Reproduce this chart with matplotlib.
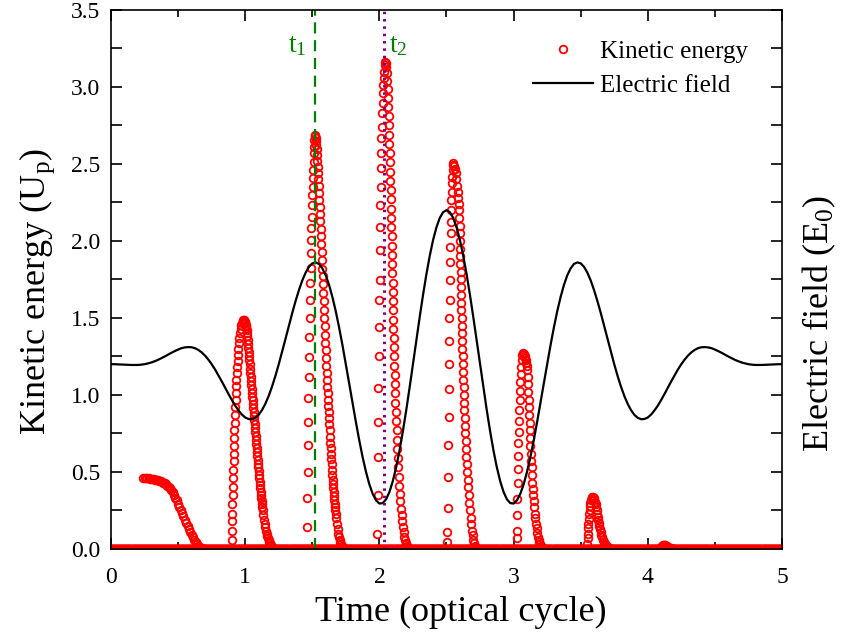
import matplotlib.pyplot as plt
import numpy as np
from matplotlib.lines import Line2D
from matplotlib.ticker import MultipleLocator, FormatStrFormatter

plt.rcParams["font.family"] = ["Liberation Serif", "DejaVu Serif"]
plt.rcParams["mathtext.fontset"] = "custom"
plt.rcParams["mathtext.rm"] = "Liberation Serif"
plt.rcParams["mathtext.it"] = "Liberation Serif:italic"
plt.rcParams["mathtext.default"] = "regular"

# --- electric field, sampled every 0.025 optical cycle from 0 to 5 ---
field_e = [
    1.200, 1.200, 1.199, 1.198, 1.197, 1.196, 1.195, 1.195, 1.195, 1.197,
    1.200, 1.205, 1.211, 1.219, 1.228, 1.239, 1.250, 1.262, 1.274, 1.285,
    1.295, 1.304, 1.309, 1.311, 1.310, 1.304, 1.293, 1.277, 1.256, 1.230,
    1.200, 1.166, 1.128, 1.089, 1.048, 1.007, 0.968, 0.931, 0.900, 0.873,
    0.854, 0.844, 0.843, 0.852, 0.871, 0.902, 0.943, 0.994, 1.055, 1.124,
    1.200, 1.281, 1.364, 1.448, 1.531, 1.609, 1.680, 1.743, 1.794, 1.832,
    1.855, 1.861, 1.851, 1.822, 1.777, 1.714, 1.635, 1.543, 1.437, 1.322,
    1.200, 1.074, 0.947, 0.823, 0.705, 0.596, 0.501, 0.420, 0.358, 0.316,
    0.295, 0.298, 0.323, 0.371, 0.441, 0.531, 0.640, 0.765, 0.902, 1.048,
    1.200, 1.353, 1.504, 1.649, 1.783, 1.903, 2.006, 2.089, 2.150, 2.187,
    2.200,
    2.187, 2.150, 2.089, 2.006, 1.903, 1.783, 1.649, 1.504, 1.353, 1.200,
    1.048, 0.902, 0.765, 0.640, 0.531, 0.441, 0.371, 0.323, 0.298, 0.295,
    0.316, 0.358, 0.420, 0.501, 0.596, 0.705, 0.823, 0.947, 1.074, 1.200,
    1.322, 1.437, 1.543, 1.635, 1.714, 1.777, 1.822, 1.851, 1.861, 1.855,
    1.832, 1.794, 1.743, 1.680, 1.609, 1.531, 1.448, 1.364, 1.281, 1.200,
    1.124, 1.055, 0.994, 0.943, 0.902, 0.871, 0.852, 0.843, 0.844, 0.854,
    0.873, 0.900, 0.931, 0.968, 1.007, 1.048, 1.089, 1.128, 1.166, 1.200,
    1.230, 1.256, 1.277, 1.293, 1.304, 1.310, 1.311, 1.309, 1.304, 1.295,
    1.285, 1.274, 1.262, 1.250, 1.239, 1.228, 1.219, 1.211, 1.205, 1.200,
    1.197, 1.195, 1.195, 1.195, 1.196, 1.197, 1.198, 1.199, 1.200, 1.200,
]
field_t = np.linspace(0, 5, len(field_e))

# --- kinetic energy, one list of (time, energy) per burst ---
ke_burst0 = [
    (0.24, 0.460), (0.25, 0.460), (0.26, 0.460), (0.27, 0.459), (0.28, 0.458),
    (0.29, 0.457), (0.30, 0.456), (0.31, 0.455), (0.32, 0.453), (0.33, 0.451),
    (0.34, 0.449), (0.35, 0.447), (0.36, 0.444), (0.37, 0.440), (0.38, 0.436),
    (0.39, 0.431), (0.40, 0.426), (0.41, 0.420), (0.42, 0.412), (0.43, 0.403),
    (0.44, 0.393), (0.45, 0.382), (0.46, 0.368), (0.47, 0.352), (0.48, 0.334),
    (0.49, 0.315), (0.50, 0.294), (0.51, 0.272), (0.52, 0.251), (0.53, 0.231),
    (0.54, 0.211), (0.55, 0.191), (0.56, 0.171), (0.57, 0.151), (0.58, 0.131),
    (0.59, 0.111), (0.60, 0.093), (0.61, 0.076), (0.62, 0.059), (0.63, 0.043),
    (0.64, 0.030), (0.65, 0.020), (0.66, 0.012), (0.67, 0.006), (0.68, 0.003),
    (0.69, 0.001), (0.70, 0.000),
]
ke_burst1 = [
    (0.899, 0.00), (0.900, 0.06), (0.901, 0.12), (0.902, 0.18), (0.903, 0.23),
    (0.905, 0.29), (0.906, 0.35), (0.908, 0.40), (0.909, 0.46), (0.911, 0.51),
    (0.913, 0.57), (0.914, 0.62), (0.916, 0.67), (0.918, 0.72), (0.920, 0.77),
    (0.922, 0.82), (0.924, 0.87), (0.926, 0.92), (0.928, 0.97), (0.930, 1.01),
    (0.932, 1.06), (0.935, 1.10), (0.937, 1.14), (0.940, 1.18), (0.943, 1.22),
    (0.946, 1.26), (0.949, 1.30), (0.953, 1.34), (0.957, 1.37), (0.961, 1.40),
    (0.965, 1.43), (0.970, 1.455), (0.975, 1.47), (0.980, 1.482), (0.986, 1.487),
    (0.9875, 1.486), (0.990, 1.484), (0.9925, 1.481), (0.995, 1.477), (0.9975, 1.472),
    (1.000, 1.465), (1.0025, 1.457), (1.005, 1.448), (1.0075, 1.437), (1.010, 1.425),
    (1.0125, 1.404), (1.015, 1.380), (1.0175, 1.355), (1.020, 1.330), (1.0225, 1.305),
    (1.025, 1.280), (1.0275, 1.253), (1.030, 1.225), (1.0325, 1.198), (1.035, 1.170),
    (1.0375, 1.143), (1.040, 1.115), (1.0425, 1.090), (1.045, 1.065), (1.0475, 1.040),
    (1.050, 1.015), (1.0525, 0.990), (1.055, 0.965), (1.0575, 0.940), (1.060, 0.915),
    (1.0625, 0.890), (1.065, 0.865), (1.0675, 0.838), (1.070, 0.810), (1.0725, 0.785),
    (1.075, 0.760), (1.0775, 0.733), (1.080, 0.705), (1.0825, 0.680), (1.085, 0.655),
    (1.0875, 0.630), (1.090, 0.605), (1.0925, 0.580), (1.095, 0.555), (1.0975, 0.530),
    (1.100, 0.505), (1.1025, 0.483), (1.105, 0.460), (1.1075, 0.438), (1.110, 0.415),
    (1.1125, 0.393), (1.115, 0.370), (1.1175, 0.350), (1.120, 0.330), (1.1225, 0.310),
    (1.125, 0.290), (1.1275, 0.273), (1.130, 0.255), (1.135, 0.220), (1.140, 0.190),
    (1.145, 0.165), (1.150, 0.140), (1.155, 0.120), (1.160, 0.100), (1.165, 0.085),
    (1.170, 0.070), (1.175, 0.058), (1.180, 0.047), (1.185, 0.037), (1.190, 0.028),
    (1.195, 0.020), (1.200, 0.014), (1.205, 0.009), (1.210, 0.005), (1.215, 0.002),
    (1.220, 0.000),
]
ke_burst2 = [
    (1.458, 0.000), (1.460, 0.145), (1.462, 0.329), (1.465, 0.502), (1.467, 0.675),
    (1.469, 0.827), (1.471, 0.978), (1.473, 1.119), (1.476, 1.249), (1.478, 1.379),
    (1.480, 1.498), (1.482, 1.617), (1.484, 1.725), (1.487, 1.823), (1.489, 1.920),
    (1.491, 2.006), (1.493, 2.082), (1.495, 2.158), (1.498, 2.234), (1.500, 2.299),
    (1.502, 2.353), (1.504, 2.407), (1.506, 2.461), (1.509, 2.515), (1.511, 2.569),
    (1.513, 2.612), (1.516, 2.656), (1.520, 2.688),
    (1.5225, 2.682), (1.525, 2.670), (1.5275, 2.650), (1.530, 2.625), (1.5325, 2.595),
    (1.535, 2.560), (1.5375, 2.520), (1.540, 2.480), (1.5425, 2.440), (1.545, 2.400),
    (1.5475, 2.355), (1.550, 2.310), (1.5525, 2.265), (1.555, 2.220), (1.5575, 2.175),
    (1.560, 2.130), (1.5625, 2.080), (1.565, 2.030), (1.5675, 1.980), (1.570, 1.930),
    (1.5725, 1.875), (1.575, 1.820), (1.5775, 1.770), (1.580, 1.720), (1.5825, 1.665),
    (1.585, 1.610), (1.5875, 1.555), (1.590, 1.500), (1.5925, 1.445), (1.595, 1.390),
    (1.5975, 1.340), (1.600, 1.290), (1.6025, 1.240), (1.605, 1.190), (1.6075, 1.145),
    (1.610, 1.100), (1.6125, 1.055), (1.615, 1.010), (1.6175, 0.970), (1.620, 0.930),
    (1.6225, 0.890), (1.625, 0.850), (1.6275, 0.810), (1.630, 0.770), (1.6325, 0.730),
    (1.635, 0.690), (1.6375, 0.655), (1.640, 0.620), (1.6425, 0.585), (1.645, 0.550),
    (1.6475, 0.515), (1.650, 0.480), (1.6525, 0.450), (1.655, 0.420), (1.6575, 0.395),
    (1.660, 0.370), (1.6625, 0.345), (1.665, 0.320), (1.6675, 0.295), (1.670, 0.270),
    (1.6725, 0.250), (1.675, 0.230), (1.680, 0.200), (1.685, 0.160), (1.690, 0.130),
    (1.695, 0.100), (1.700, 0.080), (1.705, 0.060), (1.710, 0.045), (1.715, 0.030),
    (1.720, 0.020), (1.725, 0.010), (1.730, 0.004), (1.735, 0.000),
]
ke_burst3 = [
    (1.983, 0.000), (1.985, 0.097), (1.987, 0.351), (1.989, 0.600), (1.991, 0.827),
    (1.993, 1.043), (1.995, 1.253), (1.997, 1.444), (1.999, 1.617), (2.001, 1.747),
    (2.003, 1.942), (2.005, 2.093), (2.007, 2.234), (2.009, 2.353), (2.011, 2.472),
    (2.013, 2.569), (2.015, 2.667), (2.018, 2.743), (2.021, 2.829), (2.024, 2.894),
    (2.027, 2.959), (2.030, 3.013), (2.033, 3.056), (2.036, 3.099), (2.039, 3.143),
    (2.042, 3.164),
    (2.046, 3.155), (2.050, 3.130), (2.054, 3.090), (2.058, 3.040), (2.061, 2.990),
    (2.064, 2.930), (2.067, 2.870), (2.069, 2.810), (2.071, 2.750), (2.073, 2.690),
    (2.075, 2.630), (2.077, 2.570), (2.079, 2.510), (2.081, 2.450), (2.082, 2.390),
    (2.084, 2.330), (2.085, 2.270), (2.087, 2.210), (2.088, 2.150), (2.090, 2.090),
    (2.091, 2.030), (2.092, 1.970), (2.094, 1.910), (2.095, 1.850), (2.096, 1.790),
    (2.098, 1.730), (2.099, 1.670), (2.100, 1.610), (2.102, 1.550), (2.103, 1.490),
    (2.104, 1.430), (2.106, 1.370), (2.107, 1.310), (2.109, 1.250), (2.111, 1.190),
    (2.113, 1.130), (2.115, 1.070), (2.117, 1.010), (2.119, 0.950), (2.122, 0.890),
    (2.125, 0.830), (2.128, 0.770), (2.131, 0.710), (2.134, 0.650), (2.137, 0.590),
    (2.141, 0.530), (2.145, 0.470), (2.149, 0.410), (2.153, 0.360), (2.157, 0.310),
    (2.161, 0.260), (2.166, 0.220), (2.171, 0.180), (2.176, 0.140), (2.181, 0.110),
    (2.186, 0.080), (2.191, 0.060), (2.196, 0.040), (2.201, 0.030), (2.206, 0.020),
    (2.211, 0.010), (2.216, 0.005), (2.221, 0.002), (2.226, 0.000),
]
ke_burst4 = [
    (2.504, 0.000), (2.506, 0.048), (2.507, 0.113), (2.509, 0.264), (2.511, 0.470),
    (2.513, 0.675), (2.515, 0.859), (2.517, 1.037), (2.519, 1.199), (2.521, 1.351),
    (2.522, 1.498), (2.524, 1.617), (2.526, 1.747), (2.527, 1.866), (2.529, 1.963),
    (2.531, 2.050), (2.533, 2.125), (2.535, 2.201), (2.537, 2.266), (2.539, 2.320),
    (2.541, 2.375), (2.543, 2.418), (2.545, 2.461), (2.548, 2.494), (2.551, 2.505),
    (2.556, 2.490), (2.562, 2.470), (2.568, 2.440), (2.574, 2.400), (2.579, 2.360),
    (2.583, 2.320), (2.587, 2.280), (2.590, 2.240), (2.593, 2.200), (2.595, 2.150),
    (2.597, 2.100), (2.598, 2.050), (2.599, 2.000), (2.601, 1.950), (2.602, 1.900),
    (2.603, 1.850), (2.605, 1.800), (2.606, 1.750), (2.607, 1.700), (2.609, 1.650),
    (2.610, 1.600), (2.611, 1.550), (2.613, 1.500), (2.614, 1.450), (2.616, 1.400),
    (2.617, 1.350), (2.619, 1.300), (2.620, 1.250), (2.622, 1.200), (2.624, 1.150),
    (2.625, 1.100), (2.627, 1.050), (2.629, 1.000), (2.631, 0.950), (2.633, 0.900),
    (2.635, 0.850), (2.638, 0.800), (2.640, 0.750), (2.643, 0.700), (2.645, 0.650),
    (2.648, 0.600), (2.651, 0.550), (2.654, 0.500), (2.658, 0.450), (2.662, 0.400),
    (2.666, 0.350), (2.670, 0.300), (2.675, 0.250), (2.680, 0.200), (2.685, 0.160),
    (2.690, 0.120), (2.695, 0.090), (2.700, 0.060), (2.705, 0.040), (2.710, 0.020),
    (2.715, 0.010), (2.720, 0.000),
]
ke_burst5 = [
    (3.021, 0.000), (3.023, 0.069), (3.024, 0.117), (3.026, 0.221), (3.028, 0.325),
    (3.030, 0.426), (3.032, 0.517), (3.034, 0.606), (3.036, 0.686), (3.038, 0.762),
    (3.040, 0.833), (3.042, 0.903), (3.045, 0.968), (3.047, 1.028), (3.050, 1.087),
    (3.053, 1.136), (3.056, 1.184), (3.060, 1.227), (3.065, 1.260), (3.072, 1.272),
    (3.078, 1.265), (3.083, 1.255), (3.088, 1.240), (3.092, 1.225), (3.096, 1.205),
    (3.099, 1.185), (3.102, 1.160), (3.104, 1.120), (3.107, 1.070), (3.109, 1.020),
    (3.112, 0.970), (3.114, 0.920), (3.117, 0.870), (3.119, 0.820), (3.121, 0.770),
    (3.124, 0.720), (3.126, 0.670), (3.129, 0.620), (3.131, 0.570), (3.134, 0.530),
    (3.137, 0.480), (3.140, 0.430), (3.143, 0.390), (3.146, 0.350), (3.150, 0.310),
    (3.154, 0.270), (3.158, 0.230), (3.162, 0.200), (3.167, 0.165), (3.172, 0.135),
    (3.177, 0.105), (3.182, 0.080), (3.187, 0.060), (3.193, 0.045), (3.199, 0.030),
    (3.205, 0.020), (3.212, 0.010), (3.220, 0.005), (3.228, 0.000),
]
ke_burst6 = [
    (3.548, 0.000), (3.550, 0.035), (3.552, 0.070), (3.554, 0.100), (3.556, 0.135),
    (3.558, 0.165), (3.561, 0.195), (3.564, 0.225), (3.567, 0.255), (3.570, 0.280),
    (3.573, 0.300), (3.577, 0.320), (3.581, 0.333), (3.586, 0.340),
    (3.591, 0.338), (3.596, 0.330), (3.601, 0.320), (3.606, 0.305), (3.611, 0.290),
    (3.615, 0.270), (3.619, 0.250), (3.623, 0.230), (3.627, 0.210), (3.631, 0.190),
    (3.635, 0.170), (3.639, 0.150), (3.644, 0.130), (3.649, 0.110), (3.654, 0.090),
    (3.660, 0.075), (3.666, 0.060), (3.672, 0.047), (3.679, 0.035), (3.686, 0.025),
    (3.694, 0.016), (3.702, 0.010), (3.711, 0.005), (3.720, 0.002), (3.730, 0.000),
]
ke_burst7 = [
    (4.085, 0.000), (4.090, 0.005), (4.095, 0.010), (4.100, 0.016), (4.105, 0.021),
    (4.110, 0.025), (4.115, 0.027), (4.120, 0.028), (4.125, 0.027), (4.130, 0.025),
    (4.135, 0.022), (4.140, 0.019), (4.145, 0.016), (4.150, 0.013), (4.160, 0.009),
    (4.170, 0.006), (4.180, 0.003), (4.190, 0.001), (4.200, 0.000),
]
ke_bursts = [ke_burst0, ke_burst1, ke_burst2, ke_burst3,
             ke_burst4, ke_burst5, ke_burst6, ke_burst7]

# energy stays at zero between the bursts (dense sampling of the time axis)
baseline_t = np.linspace(0, 5, 2001)
baseline_ke = np.zeros_like(baseline_t)

t1, t2 = 1.52, 2.035

RED = "#ff0000"
GREEN = "#008000"
PURPLE = "#800080"

fig = plt.figure(figsize=(8.45, 6.4), dpi=100)
ax = fig.add_axes([0.1314, 0.1422, 0.7940, 0.8422])

marker_kw = dict(linestyle="none", marker="o", ms=5.5, mfc="none",
                 mec=RED, mew=1.3)
ax.plot(baseline_t, baseline_ke, **marker_kw)
for burst in ke_bursts:
    bt, bv = zip(*burst)
    ax.plot(bt, bv, **marker_kw)

ax.plot(field_t, field_e, color="black", lw=1.6, solid_joinstyle="round")

ax.axvline(t1, color=GREEN, lw=1.6, linestyle=(0, (5, 3)))
ax.axvline(t2, color=PURPLE, lw=2.2, linestyle=(0, (0.8, 1.6)))
ax.text(t1 - 0.06, 3.27, "t$_1$", color=GREEN, fontsize=20, ha="right", va="center")
ax.text(t2 + 0.04, 3.27, "t$_2$", color=GREEN, fontsize=20, ha="left", va="center")

ax.set_xlim(0, 5)
ax.set_ylim(0, 3.5)
ax.xaxis.set_major_locator(MultipleLocator(1))
ax.xaxis.set_minor_locator(MultipleLocator(0.5))
ax.yaxis.set_major_locator(MultipleLocator(0.5))
ax.yaxis.set_minor_locator(MultipleLocator(0.25))
ax.yaxis.set_major_formatter(FormatStrFormatter("%.1f"))
ax.tick_params(which="both", direction="in", top=True, right=True,
               width=1.2, labelsize=17, colors="black")
ax.tick_params(which="major", length=8)
ax.tick_params(axis="x", which="major", pad=13)
ax.tick_params(axis="y", which="major", pad=8)
ax.tick_params(axis="x", which="minor", length=5)
ax.tick_params(axis="y", which="minor", length=8)
for spine in ax.spines.values():
    spine.set_linewidth(1.2)

ax.set_xlabel("Time (optical cycle)", fontsize=26)
ax.set_ylabel("Kinetic energy (U$_p$)", fontsize=26)
ax.xaxis.set_label_coords(0.521, -0.087)
ax.yaxis.set_label_coords(-0.080, 0.477)
fig.text(0.970, 0.494, "Electric field (E$_0$)", fontsize=26, rotation=90,
         ha="center", va="center")

handles = [
    Line2D([], [], linestyle="none", marker="o", ms=5.5, mfc="none", mec=RED, mew=1.3),
    Line2D([], [], color="black", lw=1.6),
]
ax.legend(handles, ["Kinetic energy", "Electric field"], loc="upper right",
          bbox_to_anchor=(0.983, 0.985), frameon=False, fontsize=18,
          handlelength=2.4, handletextpad=0.3, labelspacing=0.45, numpoints=1)

fig.savefig("out.png", dpi=100)
